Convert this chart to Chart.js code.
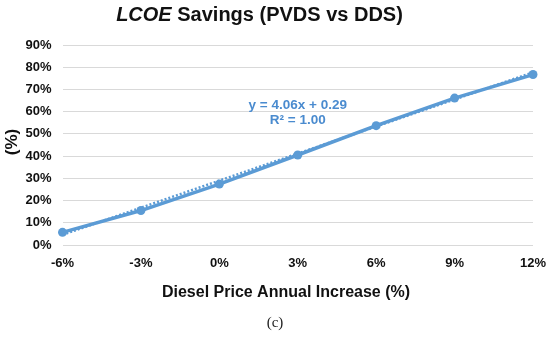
<!DOCTYPE html>
<html>
<head>
<meta charset="utf-8">
<script src="https://cdn.jsdelivr.net/npm/chart.js@4/dist/chart.umd.min.js"></script>
<style>
  html, body { margin: 0; padding: 0; background: #fff; }
  #wrap { width: 550px; height: 337px; position: relative; }
</style>
</head>
<body>
<div id="wrap"><canvas id="lcoeChart"></canvas></div>
<script>

// diesel price annual increase (%)
const priceIncrease = [-6, -3, 0, 3, 6, 9, 12];

// LCOE savings (%)
const savings = [5.7, 15.5, 27.4, 40.5, 53.7, 66.1, 76.7];

// linear trendline ends
const trendX = [-6, 12];
const trendY = [4.6, 77.7];

const xTicks = [-6, -3, 0, 3, 6, 9, 12];
const yTicks = [0, 10, 20, 30, 40, 50, 60, 70, 80, 90];

const blue = "#5b9bd5";
const textColor = "#111";

const titlePlugin = {
    id: "titles",
    afterDraw(chart) {
        const ctx = chart.ctx;
        const x = chart.scales.x;
        const y = chart.scales.y;

        ctx.save();
        ctx.fillStyle = textColor;
        ctx.textBaseline = "alphabetic";

        // chart title, "LCOE" in italics
        const part1 = "LCOE";
        const part2 = " Savings (PVDS vs DDS)";
        ctx.font = "italic bold 20px 'Liberation Sans', Arial, sans-serif";
        const w1 = ctx.measureText(part1).width;
        ctx.font = "bold 20px 'Liberation Sans', Arial, sans-serif";
        const w2 = ctx.measureText(part2).width;
        let start = 259.5 - (w1 + w2) / 2;
        ctx.textAlign = "left";
        ctx.font = "italic bold 20px 'Liberation Sans', Arial, sans-serif";
        ctx.fillText(part1, start, 21);
        ctx.font = "bold 20px 'Liberation Sans', Arial, sans-serif";
        ctx.fillText(part2, start + w1, 21);

        // x axis title
        ctx.textAlign = "center";
        ctx.font = "bold 16px 'Liberation Sans', Arial, sans-serif";
        ctx.fillText("Diesel Price Annual Increase (%)", 286, 297);

        // y axis title
        ctx.save();
        ctx.translate(17, 142);
        ctx.rotate(-Math.PI / 2);
        ctx.font = "bold 17px 'Liberation Sans', Arial, sans-serif";
        ctx.fillText("(%)", 0, 0);
        ctx.restore();

        // trendline equation
        ctx.fillStyle = "#4a8bcf";
        ctx.font = "bold 13.5px 'Liberation Sans', Arial, sans-serif";
        const ex = x.getPixelForValue(3);
        const ey = y.getPixelForValue(63.5);
        ctx.fillText("y = 4.06x + 0.29", ex, ey + 5);
        ctx.fillText("R\u00b2 = 1.00", ex, ey + 20);

        // panel caption
        ctx.fillStyle = "#222";
        ctx.font = "15px 'Liberation Serif', 'Times New Roman', serif";
        ctx.fillText("(c)", 275, 327);

        ctx.restore();
    }
};

new Chart(document.getElementById("lcoeChart"), {
    type: "scatter",
    data: {
        datasets: [
            {
                label: "Trend",
                data: trendX.map((v, i) => ({ x: v, y: trendY[i] })),
                showLine: true,
                borderColor: blue,
                borderWidth: 2.5,
                borderDash: [2, 2],
                pointRadius: 0,
                clip: false,
                order: 2
            },
            {
                label: "LCOE Savings",
                data: priceIncrease.map((v, i) => ({ x: v, y: savings[i] })),
                showLine: true,
                borderColor: blue,
                backgroundColor: blue,
                borderWidth: 3.5,
                pointRadius: 4.5,
                pointHoverRadius: 4.5,
                pointBorderWidth: 0,
                clip: false,
                order: 1
            }
        ]
    },
    options: {
        responsive: true,
        maintainAspectRatio: false,
        animation: false,
        layout: {
            padding: { left: 0, right: 17, top: 45, bottom: 0 }
        },
        plugins: {
            legend: { display: false },
            tooltip: { enabled: false }
        },
        scales: {
            x: {
                type: "linear",
                min: -6,
                max: 12,
                afterBuildTicks: (scale) => {
                    scale.ticks = xTicks.map(v => ({ value: v }));
                },
                afterFit: (scale) => {
                    scale.height = 92;
                    scale.paddingLeft = 0;
                    scale.paddingRight = 0;
                },
                grid: { display: false, drawTicks: false },
                border: { display: false },
                ticks: {
                    padding: 11,
                    color: textColor,
                    font: { family: "'Liberation Sans', Arial, sans-serif", size: 13, weight: "bold" },
                    callback: (v) => v + "%"
                }
            },
            y: {
                min: 0,
                max: 90,
                afterBuildTicks: (scale) => {
                    scale.ticks = yTicks.map(v => ({ value: v }));
                },
                afterFit: (scale) => {
                    scale.width = 62.5;
                    scale.paddingTop = 0;
                    scale.paddingBottom = 0;
                },
                grid: { color: "#d9d9d9", lineWidth: 1, drawTicks: false },
                border: { display: false },
                ticks: {
                    padding: 11,
                    color: textColor,
                    font: { family: "'Liberation Sans', Arial, sans-serif", size: 13, weight: "bold" },
                    callback: (v) => v + "%"
                }
            }
        }
    },
    plugins: [titlePlugin]
});

</script>
</body>
</html>
